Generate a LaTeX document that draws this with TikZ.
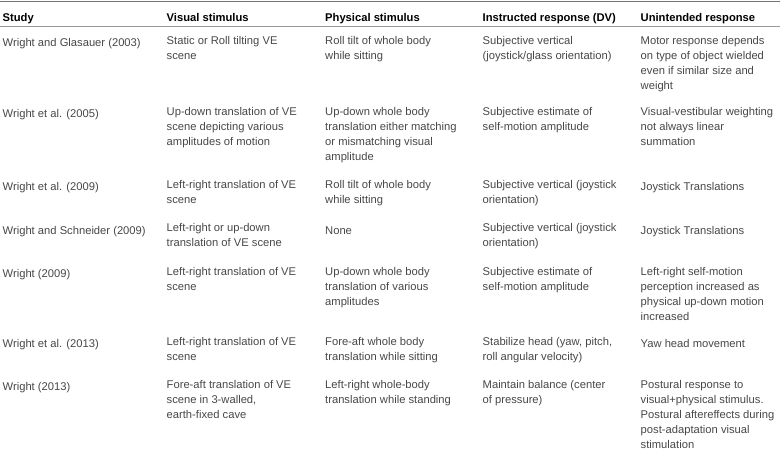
\documentclass[tikz,border=0pt]{standalone}
\usepackage{fontspec}
\setmainfont{Liberation Sans}
\begin{document}
\begin{tikzpicture}[x=1pt,y=-1pt,
    cell/.style={anchor=north west, yshift=8.7pt, inner sep=0pt, align=left, text=black!72,
        font=\fontsize{11.2}{15}\selectfont, execute at begin node=\strut},
    head/.style={cell, yshift=0.8pt, text=black, font=\fontsize{11.2}{15}\selectfont\bfseries},
    rule/.style={draw=black!55, line width=0.9pt}]

    \useasboundingbox (0,0) rectangle (780,451);

    %filets
    \coordinate (tl) at (0,1.5);  \coordinate (tr) at (780,1.5);
    \coordinate (ml) at (0,26);   \coordinate (mr) at (780,26);
    \draw[rule, line width=1.2pt] (tl) -- (tr);
    \draw[rule, draw=black!40] (ml) -- (mr);

    %entete
    \foreach \x/\t [count=\i] in {2.5/Study, 166.5/Visual stimulus, 325/Physical stimulus,
        482.5/Instructed response (DV), 640.5/Unintended response}
        \node[head] (h\i) at (\x,20) {\t};

    %ligne 1
    \node[cell] (s1) at (2.5,44.5) {Wright and Glasauer (2003)};
    \node[cell] (v1) at (166.5,44.5) {Static or Roll tilting VE\\scene};
    \node[cell] (p1) at (325,44.5) {Roll tilt of whole body\\while sitting};
    \node[cell] (i1) at (482.5,44.5) {Subjective vertical\\(joystick/glass orientation)};
    \node[cell] (u1) at (640.5,44.5) {Motor response depends\\on type of object wielded\\even if similar size and\\weight};

    %ligne 2
    \node[cell] (s2) at (2.5,115.5) {Wright et al. (2005)};
    \node[cell] (v2) at (166.5,115.5) {Up-down translation of VE\\scene depicting various\\amplitudes of motion};
    \node[cell] (p2) at (325,115.5) {Up-down whole body\\translation either matching\\or mismatching visual\\amplitude};
    \node[cell] (i2) at (482.5,115.5) {Subjective estimate of\\self-motion amplitude};
    \node[cell] (u2) at (640.5,115.5) {Visual-vestibular weighting\\not always linear\\summation};

    %ligne 3
    \node[cell] (s3) at (2.5,188.5) {Wright et al. (2009)};
    \node[cell] (v3) at (166.5,188.5) {Left-right translation of VE\\scene};
    \node[cell] (p3) at (325,188.5) {Roll tilt of whole body\\while sitting};
    \node[cell] (i3) at (482.5,188.5) {Subjective vertical (joystick\\orientation)};
    \node[cell] (u3) at (640.5,188.5) {Joystick Translations};

    %ligne 4
    \node[cell] (s4) at (2.5,232) {Wright and Schneider (2009)};
    \node[cell] (v4) at (166.5,232) {Left-right or up-down\\translation of VE scene};
    \node[cell] (p4) at (325,232) {None};
    \node[cell] (i4) at (482.5,232) {Subjective vertical (joystick\\orientation)};
    \node[cell] (u4) at (640.5,232) {Joystick Translations};

    %ligne 5
    \node[cell] (s5) at (2.5,275.5) {Wright (2009)};
    \node[cell] (v5) at (166.5,275.5) {Left-right translation of VE\\scene};
    \node[cell] (p5) at (325,275.5) {Up-down whole body\\translation of various\\amplitudes};
    \node[cell] (i5) at (482.5,275.5) {Subjective estimate of\\self-motion amplitude};
    \node[cell] (u5) at (640.5,275.5) {Left-right self-motion\\perception increased as\\physical up-down motion\\increased};

    %ligne 6
    \node[cell] (s6) at (2.5,345.5) {Wright et al. (2013)};
    \node[cell] (v6) at (166.5,345.5) {Left-right translation of VE\\scene};
    \node[cell] (p6) at (325,345.5) {Fore-aft whole body\\translation while sitting};
    \node[cell] (i6) at (482.5,345.5) {Stabilize head (yaw, pitch,\\roll angular velocity)};
    \node[cell] (u6) at (640.5,345.5) {Yaw head movement};

    %ligne 7
    \node[cell] (s7) at (2.5,388.5) {Wright (2013)};
    \node[cell] (v7) at (166.5,388.5) {Fore-aft translation of VE\\scene in 3-walled,\\earth-fixed cave};
    \node[cell] (p7) at (325,388.5) {Left-right whole-body\\translation while standing};
    \node[cell] (i7) at (482.5,388.5) {Maintain balance (center\\of pressure)};
    \node[cell] (u7) at (640.5,388.5) {Postural response to\\visual+physical stimulus.\\Postural aftereffects during\\post-adaptation visual\\stimulation};

\end{tikzpicture}
\end{document}
